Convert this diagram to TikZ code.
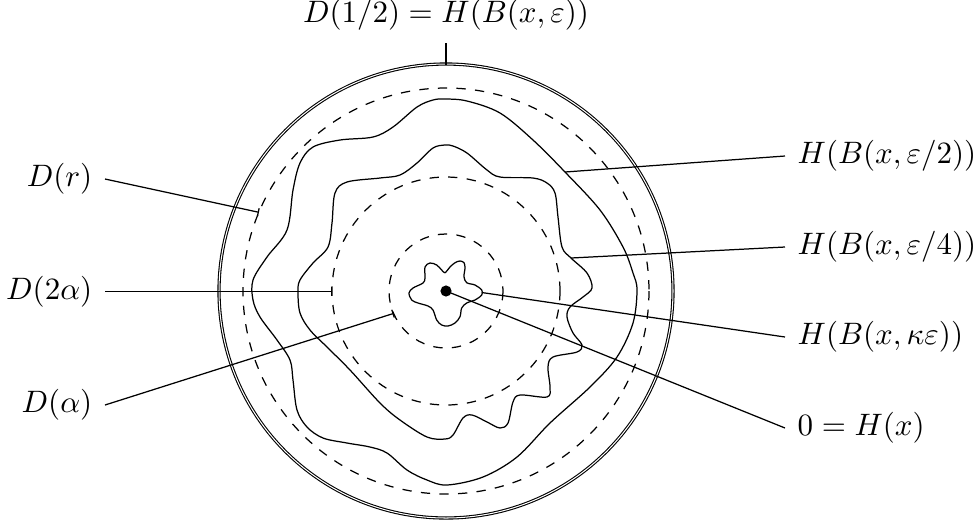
\documentclass[tikz,border=0pt]{standalone}
\usetikzlibrary{arrows.meta}
\begin{document}
\begin{tikzpicture}[x=0.32258pt,y=-0.32258pt,
  lbl/.style={inner sep=3.9pt},
  lead/.style={line width=0.4pt},
  tick/.style={lead,-{Bar[width=2.6pt,line width=0.4pt]}},
  wavy/.style={line width=0.4pt},
  dot/.style={circle,fill=black,inner sep=0pt,minimum size=3.6pt}]
\useasboundingbox (0,0) rectangle (978,526);
\coordinate (c) at (446,291);
% circles
\draw[double, line width=0.35pt, double distance=0.33pt] (c) circle[radius=227];
\draw[dashed] (c) circle[radius=203];
\draw[dashed] (c) circle[radius=114];
\draw[dashed] (c) circle[radius=57];
% wavy curve H(B(x,eps/2))
\draw[wavy] plot[smooth cycle, tension=0.55] coordinates {
(445,99) (467,101) (500,113) (533,140) (565,172) (600,210) (623,247) (633,273)
(637,290) (633,323) (617,357) (590,387) (550,423) (517,457) (483,477) (447,485)
(427,480) (407,470) (387,453) (370,447) (347,443) (323,438) (307,427) (297,410)
(293,380) (290,360) (277,340) (260,317) (253,300) (253,280) (267,257) (287,230)
(293,190) (300,163) (313,147) (340,140) (373,137) (393,127) (417,107) (433,100)};
% wavy curve H(B(x,eps/4))
\draw[wavy] plot[smooth cycle, tension=0.55] coordinates {
(445,145) (453,146) (467,153) (487,170) (500,177) (533,178) (547,183) (555,193)
(558,217) (562,247) (571,258) (587,273) (592,288) (583,297) (570,307) (567,317)
(573,333) (582,345) (577,352) (553,357) (548,367) (550,387) (547,397) (520,395)
(513,402) (508,423) (500,428) (487,422) (472,415) (463,418) (453,435) (445,439)
(427,437) (400,420) (380,403) (350,370) (327,347) (310,330) (300,313) (298,292)
(300,280) (313,263) (328,247) (332,223) (335,193) (347,182) (380,178) (400,175)
(417,163) (433,148)};
% star H(B(x,kappa eps))
\draw[wavy] plot[smooth cycle, tension=0.55] coordinates {
(445,272.7) (450,267) (455,262.7) (460,261) (464,262.7) (465,268) (464,276.7)
(466.7,282.7) (475,285) (481.7,290) (481.7,295) (475,300) (466.7,303) (461.7,308)
(460,316.7) (455,323) (448,326) (441.7,325) (436.7,320) (433,310) (428,306)
(418,303) (411.7,300) (409,293) (413,288) (423,283) (425,278) (425,267)
(430,263) (436.7,265) (441.7,270)};
% centre dot
\node[dot] (o) at (c) {};
% end points
\coordinate (ptop) at (446,64.5);
\coordinate (er) at (258.9,212.3);
\coordinate (e2a) at (332,291.5);
\coordinate (ea) at (393.6,313.4);
\coordinate (e2) at (565,172);
\coordinate (e4) at (571,258);
\coordinate (ek) at (481.7,292.5);
% labels
\node[lbl,anchor=south] (top) at (446,43) {$D(1/2)=H(B(x,\varepsilon))$};
\node[lbl,anchor=west] (h2) at (785,156) {$H(B(x,\varepsilon/2))$};
\node[lbl,anchor=west] (h4) at (785,247) {$H(B(x,\varepsilon/4))$};
\node[lbl,anchor=west] (hk) at (785,337) {$H(B(x,\kappa\varepsilon))$};
\node[lbl,anchor=west] (h0) at (785,428) {$0=H(x)$};
\node[lbl,anchor=east] (dr) at (105,179) {$D(r)$};
\node[lbl,anchor=east] (d2a) at (105,291.5) {$D(2\alpha)$};
\node[lbl,anchor=east] (da) at (105,405) {$D(\alpha)$};
% connectors
\draw[lead] (top.south) -- (ptop);
\draw[lead] (h2.west) -- (e2);
\draw[lead] (h4.west) -- (e4);
\draw[lead] (hk.west) -- (ek);
\draw[lead] (h0.west) -- (o.center);
\draw[tick] (dr.east) -- (er);
\draw[tick] (d2a.east) -- (e2a);
\draw[tick] (da.east) -- (ea);
\end{tikzpicture}
\end{document}
